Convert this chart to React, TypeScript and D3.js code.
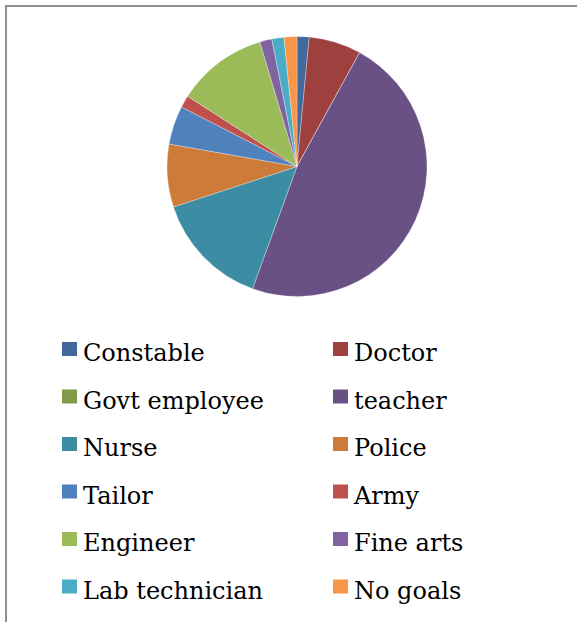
import React, { useEffect, useRef } from "react";
import * as d3 from "d3";

const categories = [
  "Constable",
  "Doctor",
  "Govt employee",
  "teacher",
  "Nurse",
  "Police",
  "Tailor",
  "Army",
  "Engineer",
  "Fine arts",
  "Lab technician",
  "No goals",
];
const values = [1.5, 6.5, 0, 47.5, 14.4, 7.8, 4.8, 1.5, 11.3, 1.5, 1.5, 1.6];
const colors = [
  "#41699c",
  "#9e413e",
  "#7f9a48",
  "#695185",
  "#3c8da3",
  "#cc7b38",
  "#4f81bd",
  "#c0504d",
  "#9bbb59",
  "#8064a2",
  "#4bacc6",
  "#f79646",
];

const W = 577;
const H = 622;

const App: React.FC = () => {
  const svgRef = useRef<SVGSVGElement>(null);

  useEffect(() => {
    if (!svgRef.current) return;
    const svg = d3.select(svgRef.current);
    svg.selectAll("*").remove();

    // outer frame (right/bottom edges fall off the page)
    svg
      .append("rect")
      .attr("x", 6)
      .attr("y", 6)
      .attr("width", 640)
      .attr("height", 680)
      .attr("fill", "#fff")
      .attr("stroke", "#8f8f8f")
      .attr("stroke-width", 2);

    const data = categories.map((c, i) => ({ name: c, value: values[i], color: colors[i] }));

    const pie = d3
      .pie<{ name: string; value: number; color: string }>()
      .sort(null)
      .value((d) => d.value);

    const arc = d3
      .arc<d3.PieArcDatum<{ name: string; value: number; color: string }>>()
      .innerRadius(0)
      .outerRadius(130);

    const g = svg.append("g").attr("transform", "translate(297,166.5)");
    g.selectAll("path")
      .data(pie(data))
      .join("path")
      .attr("d", arc)
      .attr("fill", (d) => d.data.color)
      .attr("stroke", "rgba(255,255,255,0.5)")
      .attr("stroke-width", 0.6);

    // legend, two columns
    const colX = d3.scaleOrdinal<number, number>().domain([0, 1]).range([62, 333]);
    const rowY = d3
      .scaleLinear()
      .domain([0, 1])
      .range([342, 389.5]);

    const items = svg
      .append("g")
      .selectAll("g")
      .data(data)
      .join("g")
      .attr("transform", (_, i) => `translate(${colX(i % 2)},${rowY(Math.floor(i / 2))})`);

    items
      .append("rect")
      .attr("width", 15)
      .attr("height", 14)
      .attr("fill", (d) => d.color);

    items
      .append("text")
      .attr("x", 21)
      .attr("y", 19)
      .style("font-family", "'DejaVu Serif', serif")
      .style("font-size", "24px")
      .attr("fill", "#000")
      .text((d) => d.name);
  }, []);

  return (
    <svg
      ref={svgRef}
      width={W}
      height={H}
      style={{ position: "absolute", left: 0, top: 0 }}
    />
  );
};

export default App;
